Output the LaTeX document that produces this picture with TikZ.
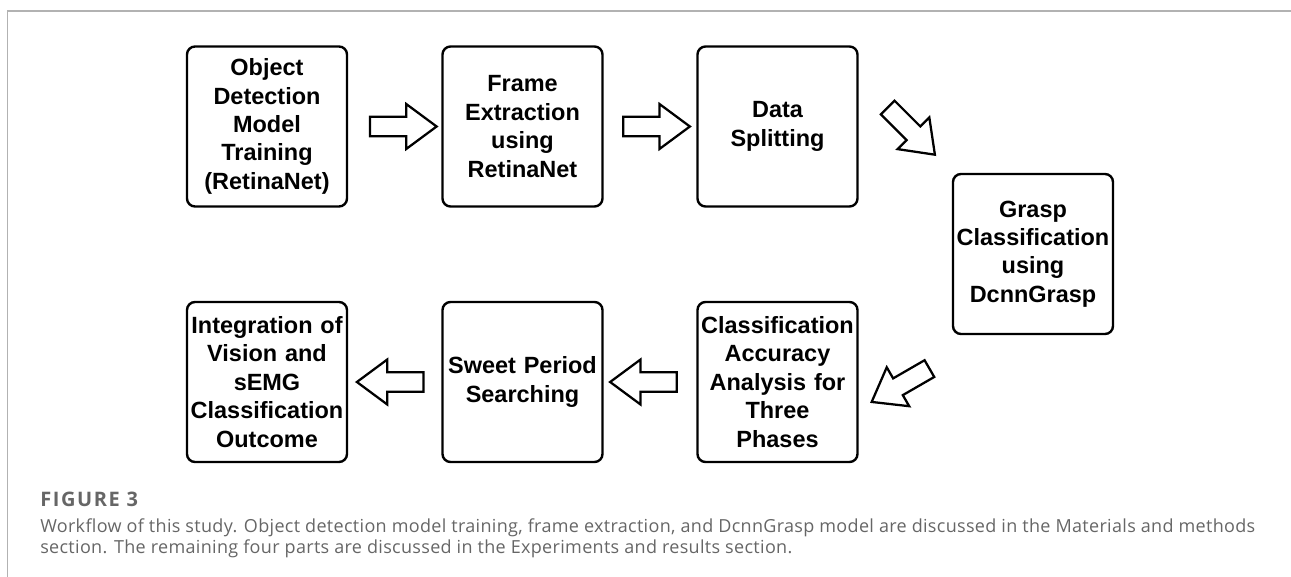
\documentclass[tikz,border=0pt]{standalone}
\usepackage{fontspec}
\setmainfont{Liberation Sans}
\newfontfamily\capfont[Ligatures=NoCommon,LetterSpace=1.8]{Open Sans}
\newfontfamily\figfont[Ligatures=NoCommon,LetterSpace=8]{Open Sans}
\usetikzlibrary{shapes.arrows,calc}

\begin{document}
\begin{tikzpicture}[x=0.75pt,y=-0.75pt,
	stage/.style={shape=rectangle,rounded corners=6pt,draw=black,line width=1.8pt,minimum width=120pt,minimum height=120pt,text width=118pt,align=center,inner sep=0pt,font=\fontsize{17.6}{21.3}\selectfont\bfseries},
	flow/.style={shape=single arrow,draw=black,line width=1.7pt,fill=white,minimum height=50pt,inner xsep=0pt,inner ysep=6.4pt,single arrow head extend=9.6pt,single arrow tip angle=73},
	caption/.style={anchor=base west,inner sep=0pt,text=black!60,font=\capfont\fontsize{13.5}{15}\selectfont}]

	\useasboundingbox (0, 0) rectangle (1291, 577);
	\draw[black!30, line width=1pt] (7.5, 577) -- (7.5, 11) -- (1291, 11);

	% first row
	\node[stage] (train) at (267, 126.5)   {Object\\Detection\\Model\\Training\\(RetinaNet)};
	\node[stage] (frame) at (522.5, 126.5) {Frame\\Extraction\\using\\RetinaNet};
	\node[stage] (split) at (777.5, 126.5) {Data\\Splitting};
	\node[stage] (grasp) at (1033, 254)    {Grasp\\Classification\\using\\DcnnGrasp};
	% second row
	\node[stage] (phase) at (777.5, 382)   {Classification\\Accuracy\\Analysis for\\Three\\Phases};
	\node[stage] (sweet) at (522.5, 382)   {Sweet Period\\Searching};
	\node[stage] (merge) at (267, 382)     {Integration of\\Vision and\\sEMG\\Classification\\Outcome};

	\node[flow] (a1) at ($(train.east)!0.5!(frame.west)+(2, 0)$) {};
	\node[flow] (a2) at ($(frame.east)!0.5!(split.west)$) {};
	\node[flow, rotate=-45] (a3) at ($(split.east)+(48, 0)$) {};
	\node[flow, rotate=210] (a4) at ($(phase.east)+(47.5, 0)$) {};
	\node[flow, rotate=180] (a5) at ($(phase.west)!0.5!(sweet.east)$) {};
	\node[flow, rotate=180] (a6) at ($(sweet.west)!0.5!(merge.east)+(2, 0)$) {};

	\node[caption, font=\figfont\bfseries\fontsize{15}{16}\selectfont] (fig) at (40, 506) {FIGURE 3};
	\node[caption] (cap1) at (40, 532) {Workflow of this study. Object detection model training, frame extraction, and DcnnGrasp model are discussed in the Materials and methods};
	\node[caption] (cap2) at (40, 553) {section. The remaining four parts are discussed in the Experiments and results section.};
\end{tikzpicture}
\end{document}
